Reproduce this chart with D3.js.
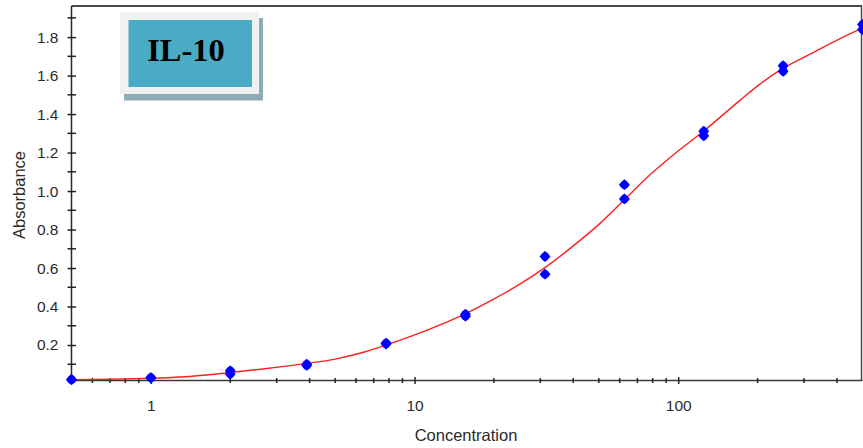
<!DOCTYPE html>
<html>
<head>
<meta charset="utf-8">
<script src="https://cdn.jsdelivr.net/npm/d3@7"></script>
<style>
  html, body { margin: 0; padding: 0; background: #fff; }
  svg { display: block; }
  text { font-family: "Liberation Sans", Arial, sans-serif; }
  text.badge-title { font-family: "Liberation Serif", "Times New Roman", serif; font-weight: bold; }
</style>
</head>
<body>
<svg id="chart" width="863" height="448"></svg>
<script>
// Standard dilution series (pg/mL) and duplicate absorbance readings
const concentrations = [0.5, 1, 2, 3.9, 7.8, 15.6, 31.25, 62.5, 125, 250, 500];
const replicateA = [0.021, 0.031, 0.066, 0.100, 0.210, 0.350, 0.660, 1.033, 1.311, 1.651, 1.866];
const replicateB = [0.020, 0.029, 0.049, 0.094, 0.205, 0.360, 0.568, 0.959, 1.287, 1.622, 1.840];

// Fitted standard curve
const curveConc = [0.5, 0.7, 1, 1.3, 2, 2.6, 3.2, 4, 5, 6.2, 7.8, 9.9, 12.5, 15.7, 19.8, 25, 31.6, 40, 50.5, 62.7, 78, 101, 124, 171, 203, 246, 320, 389, 488, 500];
const curveAbs  = [0.020, 0.022, 0.027, 0.034, 0.057, 0.074, 0.089, 0.106, 0.127, 0.157, 0.200, 0.250, 0.305, 0.365, 0.436, 0.515, 0.607, 0.715, 0.832, 0.957, 1.083, 1.213, 1.308, 1.470, 1.553, 1.632, 1.715, 1.775, 1.840, 1.846];

// Axis ticks
const xMajorTicks = [1, 10, 100];
const xMinorTicks = [0.6, 0.7, 0.8, 0.9, 2, 3, 4, 5, 6, 7, 8, 9, 20, 30, 40, 50, 60, 70, 80, 90, 200, 300, 400];
const yMajorTicks = [0.2, 0.4, 0.6, 0.8, 1.0, 1.2, 1.4, 1.6, 1.8];
const yMinorTicks = [0.1, 0.3, 0.5, 0.7, 0.9, 1.1, 1.3, 1.5, 1.7, 1.9];

const chartTitle = "IL-10";
const xTitle = "Concentration";
const yTitle = "Absorbance";

const svg = d3.select("#chart");
const plotLeft = 71.5, plotRight = 862.5, plotTop = 6, plotBottom = 380.5;

const x = d3.scaleLog().domain([0.5, 500]).range([plotLeft, plotRight]);
const y = d3.scaleLinear().domain([0.0156, 1.9616]).range([plotBottom, plotTop]);

// Frame: top and right borders
svg.append("line").attr("x1", plotLeft).attr("x2", 862).attr("y1", plotTop).attr("y2", plotTop)
  .attr("stroke", "#4a4a4a").attr("stroke-width", 2);
svg.append("line").attr("x1", 861.5).attr("x2", 861.5).attr("y1", plotTop).attr("y2", plotBottom)
  .attr("stroke", "#4a4a4a").attr("stroke-width", 1.5);

// Y axis
const yAxis = svg.append("g").attr("transform", `translate(${plotLeft},0)`)
  .call(d3.axisLeft(y).tickValues(yMajorTicks).tickFormat(d3.format(".1f")).tickSize(4).tickPadding(9));
yAxis.select(".domain").attr("stroke", "#2a2a2a").attr("stroke-width", 1.5).attr("d", `M0,${plotTop}V${plotBottom}`);
yAxis.selectAll(".tick line").attr("x1", -4).attr("x2", 4.5).attr("stroke", "#222").attr("stroke-width", 1.5);
yAxis.selectAll(".tick text").attr("font-size", 15.5).attr("fill", "#2b2b2b");
yAxis.selectAll(".minor").data(yMinorTicks).join("line").attr("class", "minor")
  .attr("x1", -4).attr("x2", 4.5).attr("y1", d => y(d)).attr("y2", d => y(d))
  .attr("stroke", "#222").attr("stroke-width", 1.5);

// X axis
const xAxis = svg.append("g").attr("transform", `translate(0,${plotBottom})`)
  .call(d3.axisBottom(x).tickValues(xMajorTicks).tickFormat(d3.format("d")).tickSize(4));
xAxis.select(".domain").attr("stroke", "#3a3a3a").attr("stroke-width", 1.5).attr("d", `M${plotLeft},0H${plotRight}`);
xAxis.selectAll(".tick line").attr("y1", -3.5).attr("y2", 3.5).attr("stroke", "#222").attr("stroke-width", 1.5);
xAxis.selectAll(".tick text").attr("font-size", 15.5).attr("fill", "#2b2b2b")
  .attr("dy", null).attr("y", 30);
xAxis.selectAll(".minor").data(xMinorTicks).join("line").attr("class", "minor")
  .attr("x1", d => x(d)).attr("x2", d => x(d)).attr("y1", -2.5).attr("y2", 2.5)
  .attr("stroke", "#222").attr("stroke-width", 1.5);

// Axis titles
svg.append("text").attr("x", 466).attr("y", 441).attr("text-anchor", "middle")
  .attr("font-size", 16.5).attr("fill", "#2b2b2b").text(xTitle);
svg.append("text").attr("transform", "translate(25,195) rotate(-90)").attr("text-anchor", "middle")
  .attr("font-size", 16.5).attr("fill", "#2b2b2b").text(yTitle);

// Fitted curve
const curvePts = curveConc.map((c, i) => [c, curveAbs[i]]);
svg.append("path").datum(curvePts)
  .attr("fill", "none").attr("stroke", "#ff2020").attr("stroke-width", 1.4)
  .attr("d", d3.line().x(d => x(d[0])).y(d => y(d[1])).curve(d3.curveMonotoneX));

// Replicate points (rounded diamonds)
const points = [];
concentrations.forEach((c, i) => {
  points.push([c, replicateA[i]]);
  points.push([c, replicateB[i]]);
});
svg.append("g").selectAll("path").data(points).join("path")
  .attr("transform", d => `translate(${x(d[0])},${y(d[1])})`)
  .attr("d", "M0,-5.4L3,-3L5.4,0L3,3L0,5.4L-3,3L-5.4,0L-3,-3Z")
  .attr("fill", "#0000ff");

// Title badge with drop shadow
const badge = svg.append("g");
badge.append("rect").attr("x", 124).attr("y", 18).attr("width", 139).attr("height", 82.5).attr("fill", "#8eaab4");
badge.append("rect").attr("x", 120).attr("y", 12).attr("width", 139).attr("height", 82).attr("fill", "#f1f1f1");
badge.append("rect").attr("x", 128.5).attr("y", 20).attr("width", 123.5).attr("height", 67).attr("fill", "#4aabc5");
badge.append("text").attr("class", "badge-title").attr("x", 186).attr("y", 60.5).attr("text-anchor", "middle")
  .attr("font-size", 32.5).attr("fill", "#000").text(chartTitle);
</script>
</body>
</html>
